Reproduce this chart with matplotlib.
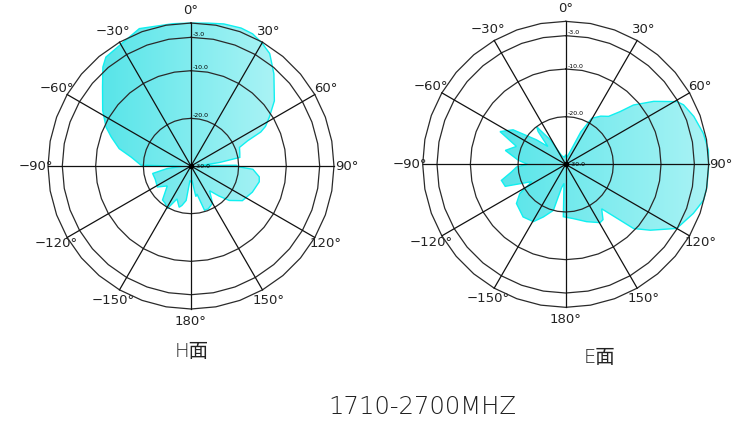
import numpy as np
import matplotlib
matplotlib.use("Agg")
import matplotlib.pyplot as plt
from matplotlib.colors import LinearSegmentedColormap

# pattern data, angle in degrees (0 = up, clockwise), level in dB
h_angles = [0, 7, 13, 20, 25, 30, 35, 42, 52, 58, 62, 64, 66, 69, 75, 80, 83, 87,
            89, 91, 93, 99, 103, 113, 124, 132, 137, 143, 150, 158, 163, 168, 171,
            176, 180, 184, 188, 193, 196, 203, 209, 215, 220, 230, 238, 250, 259,
            264, 268, 271, 278.5, 283.6, 290, 294.6, 302.2, 311.8, 318.3, 322,
            329.3, 339.4, 352.7]
h_db = [0.0, 0.2, 0.6, 0.8, 0.6, -0.2, -1.2, -4.0, -7.8, -10.6, -12.3, -13.7, -17.0,
        -19.1, -19.4, -19.6, -24.0, -28.0, -20.5, -20.0, -17.0, -15.5, -15.3, -16.0,
        -17.0, -19.2, -21.4, -23.5, -21.0, -20.3, -20.3, -24.0, -23.5, -27.0, -26.6,
        -27.0, -22.7, -21.5, -21.0, -22.5, -19.8, -20.5, -20.7, -23.5, -21.7, -22.0,
        -21.8, -25.0, -28.0, -19.5, -17.3, -14.5, -12.2, -10.4, -8.1, -5.1, -2.2,
        -1.0, -0.6, 0.8, 0.1]

e_angles = [0, 10, 20, 25, 29.5, 36, 41.8, 45.9, 48.8, 54.4, 60.6, 63.2, 69.5, 77.3,
            84.3, 91, 99, 104.5, 111, 120, 127.9, 133.4, 135.7, 141, 146, 149.5, 160,
            172, 182.6, 185, 190, 195, 203, 209.4, 219, 231.5, 237.6, 243, 250, 256,
            262, 267, 270, 275, 283, 290, 296.5, 303.3, 310, 315, 320, 322.4, 323.2,
            328, 335, 350]
e_db = [-28.0, -28.5, -27.0, -22.5, -18.9, -17.5, -16.5, -14.1, -11.1, -7.3, -3.2,
        -2.3, -1.3, -0.4, 0.1, 0.0, 0.0, -0.1, -1.3, -3.1, -7.5, -10.4, -13.6, -18.0,
        -16.0, -15.8, -17.2, -18.5, -19.0, -26.0, -25.0, -20.0, -18.0, -16.2, -15.8,
        -16.8, -18.6, -22.0, -16.5, -16.1, -18.5, -19.7, -22.0, -20.0, -17.0, -19.0,
        -14.6, -16.8, -22.0, -24.7, -21.0, -20.0, -21.0, -24.0, -28.0, -28.5]

rings = [-20, -10, -3, 0]
ring_labels = ["-20.0", "-10.0", "-3.0"]
spoke_angles = list(range(0, 360, 30))
angle_labels = ["0°", "30°", "60°", "90°", "120°", "150°", "180°",
                "−150°", "−120°", "−90°", "−60°", "−30°"]

fig = plt.figure(figsize=(7.5, 4.21), dpi=100)
fig.patch.set_facecolor("white")

cmap = LinearSegmentedColormap.from_list("cy", ["#58e5e9", "#aaf3f5"])


def polar_panel(rect, ang, db):
    ov = fig.add_axes(rect)
    ov.set_axis_off()
    ax = fig.add_axes(rect, projection="polar")
    ax.set_theta_zero_location("N")
    ax.set_theta_direction(-1)
    ax.set_ylim(-30, 0)
    ax.set_axis_off()

    th = np.radians(np.append(ang, ang[0]))
    r = np.append(db, db[0])
    poly, = ax.fill(th, r, facecolor="none", edgecolor="#10f0f0", lw=1.0,
                    clip_on=False, zorder=3)

    # horizontal gradient spanning the pattern's own width
    xs = 0.5 + 0.5 * (r + 30) / 30 * np.sin(th)
    grad = np.linspace(0, 1, 256).reshape(1, -1)
    im = ov.imshow(grad, extent=[xs.min(), xs.max(), -0.1, 1.1], aspect="auto",
                   cmap=cmap)
    ov.set_xlim(0, 1)
    ov.set_ylim(0, 1)
    im.set_clip_path(poly)

    # rings (drawn as 36-sided polygons like the original)
    t = np.radians(np.arange(0, 361, 10))
    for lvl in rings:
        ax.plot(t, np.full_like(t, lvl), color="#2a2a2a", lw=0.9, zorder=4,
                clip_on=False)
    for a in spoke_angles:
        ax.plot([np.radians(a)] * 2, [-30, 0], color="#111111", lw=0.9, zorder=4,
                clip_on=False)
    ax.plot([0], [-30], "o", color="black", ms=3, zorder=5)

    for a, lab in zip(spoke_angles, angle_labels):
        ax.text(np.radians(a), 2.6, lab, ha="center", va="center", fontsize=9.5,
                color="#222222", clip_on=False)
    for lvl, lab in zip(rings[:3], ring_labels):
        ax.annotate(lab, xy=(0, lvl), xytext=(1.5, 0.3), textcoords="offset points",
                    ha="left", va="bottom", fontsize=4.5, color="black")
    ax.annotate("-30.0", xy=(0, -30), xytext=(3, 0), textcoords="offset points",
                ha="left", va="center", fontsize=4.5, color="black")
    return ax


polar_panel([0.064, 0.266, 0.3813, 0.6793], h_angles, h_db)
polar_panel([0.5636, 0.270, 0.3813, 0.6793], e_angles, e_db)

cjk = ["DejaVu Sans", "Noto Sans CJK SC"]
fig.text(0.256, 0.166, "H面", ha="center", va="center", fontsize=14,
         family=cjk, fontweight="light", color="#222222")
fig.text(0.80, 0.150, "E面", ha="center", va="center", fontsize=14,
         family=cjk, fontweight="light", color="#222222")
fig.text(0.563, 0.033, "1710-2700MHZ", ha="center", va="center", fontsize=17.5,
         fontweight="light", color="#222222")

fig.savefig("out.png", dpi=100)
